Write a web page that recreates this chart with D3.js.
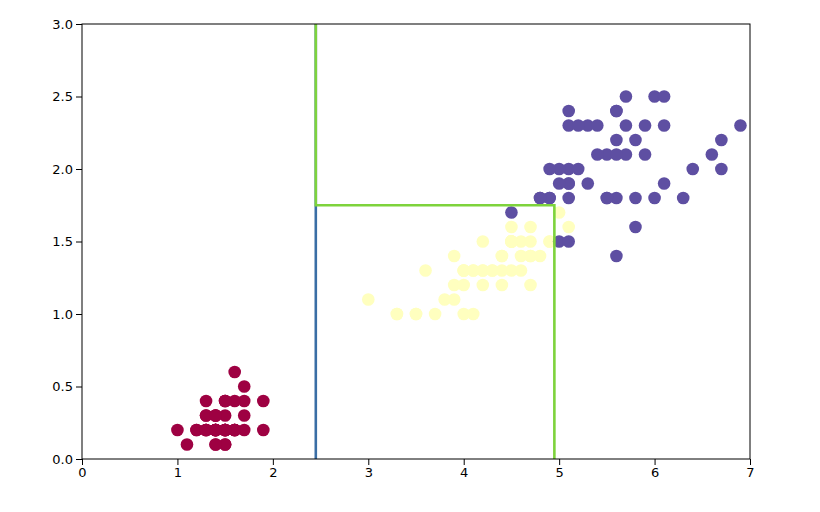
<!DOCTYPE html>
<html><head><meta charset="utf-8">
<script src="https://cdn.jsdelivr.net/npm/d3@7"></script>
<style>body{margin:0;background:#fff}</style></head>
<body><svg id="c" width="820" height="512"></svg>
<script>
const setosa=[[1.4,.2],[1.4,.2],[1.3,.2],[1.5,.2],[1.4,.2],[1.7,.4],[1.4,.3],[1.5,.2],[1.4,.2],[1.5,.1],[1.5,.2],[1.6,.2],[1.4,.1],[1.1,.1],[1.2,.2],[1.5,.4],[1.3,.4],[1.4,.3],[1.7,.3],[1.5,.3],[1.7,.2],[1.5,.4],[1.0,.2],[1.7,.5],[1.9,.2],[1.6,.2],[1.6,.4],[1.5,.2],[1.4,.2],[1.6,.2],[1.6,.2],[1.5,.4],[1.5,.1],[1.4,.2],[1.5,.2],[1.2,.2],[1.3,.2],[1.4,.1],[1.3,.2],[1.5,.2],[1.3,.3],[1.3,.3],[1.3,.2],[1.6,.6],[1.9,.4],[1.4,.3],[1.6,.2],[1.4,.2],[1.5,.2],[1.4,.2]];
const versicolor=[[4.7,1.4],[4.5,1.5],[4.9,1.5],[4.0,1.3],[4.6,1.5],[4.5,1.3],[4.7,1.6],[3.3,1.0],[4.6,1.3],[3.9,1.4],[3.5,1.0],[4.2,1.5],[4.0,1.0],[4.7,1.4],[3.6,1.3],[4.4,1.4],[4.5,1.5],[4.1,1.0],[4.5,1.5],[3.9,1.1],[4.8,1.8],[4.0,1.3],[4.9,1.5],[4.7,1.2],[4.3,1.3],[4.4,1.4],[4.8,1.4],[5.0,1.7],[4.5,1.5],[3.5,1.0],[3.8,1.1],[3.7,1.0],[3.9,1.2],[5.1,1.6],[4.5,1.5],[4.5,1.6],[4.7,1.5],[4.4,1.3],[4.1,1.3],[4.0,1.3],[4.4,1.2],[4.6,1.4],[4.0,1.2],[3.3,1.0],[4.2,1.3],[4.2,1.2],[4.2,1.3],[4.3,1.3],[3.0,1.1],[4.1,1.3]];
const virginica=[[6.0,2.5],[5.1,1.9],[5.9,2.1],[5.6,1.8],[5.8,2.2],[6.6,2.1],[4.5,1.7],[6.3,1.8],[5.8,1.8],[6.1,2.5],[5.1,2.0],[5.3,1.9],[5.5,2.1],[5.0,2.0],[5.1,2.4],[5.3,2.3],[5.5,1.8],[6.7,2.2],[6.9,2.3],[5.0,1.5],[5.7,2.3],[4.9,2.0],[6.7,2.0],[4.9,1.8],[5.7,2.1],[6.0,1.8],[4.8,1.8],[4.9,1.8],[5.6,2.1],[5.8,1.6],[6.1,1.9],[6.4,2.0],[5.6,2.2],[5.1,1.5],[5.6,1.4],[6.1,2.3],[5.6,2.4],[5.5,1.8],[4.8,1.8],[5.4,2.1],[5.6,2.4],[5.1,2.3],[5.1,1.9],[5.9,2.3],[5.7,2.5],[5.2,2.3],[5.0,1.9],[5.2,2.0],[5.4,2.3],[5.1,1.8]];
const xTicks=[0,1,2,3,4,5,6,7];
const yTicks=[0,0.5,1,1.5,2,2.5,3];
const split1=[[2.45,0],[2.45,3]];
const split2=[[2.45,3],[2.45,1.75],[4.95,1.75],[4.95,0]];

const svg=d3.select("#c");
const x=d3.scaleLinear().domain([0,7]).range([82,750]);
const y=d3.scaleLinear().domain([0,3]).range([459,24]);
const groups=[[setosa,"#9e0142"],[versicolor,"#ffffbf"],[virginica,"#5e4fa2"]];
groups.forEach(([d,c])=>{
  svg.append("g").selectAll("circle").data(d).join("circle")
    .attr("cx",p=>x(p[0])).attr("cy",p=>y(p[1])).attr("r",6.3).attr("fill",c);
});
const line=d3.line().x(p=>x(p[0])).y(p=>y(p[1]));
svg.append("path").attr("d",line(split1)).attr("fill","none").attr("stroke","#3a6ea5").attr("stroke-width",2.6);
svg.append("path").attr("d",line(split2)).attr("fill","none").attr("stroke","#7ed33c").attr("stroke-width",2.6);
const xa=svg.append("g").attr("transform","translate(0,459)").call(d3.axisBottom(x).tickValues(xTicks).tickFormat(d3.format("d")).tickSizeOuter(0));
const ya=svg.append("g").attr("transform","translate(82,0)").call(d3.axisLeft(y).tickValues(yTicks).tickFormat(d3.format(".1f")).tickSizeOuter(0));
[xa,ya].forEach(a=>{a.selectAll("text").attr("font-family","DejaVu Sans").attr("font-size",13).attr("fill","#000");a.select(".domain").remove();});
svg.append("rect").attr("x",82).attr("y",24).attr("width",668).attr("height",435).attr("fill","none").attr("stroke","#000").attr("stroke-width",1);
</script></body></html>
